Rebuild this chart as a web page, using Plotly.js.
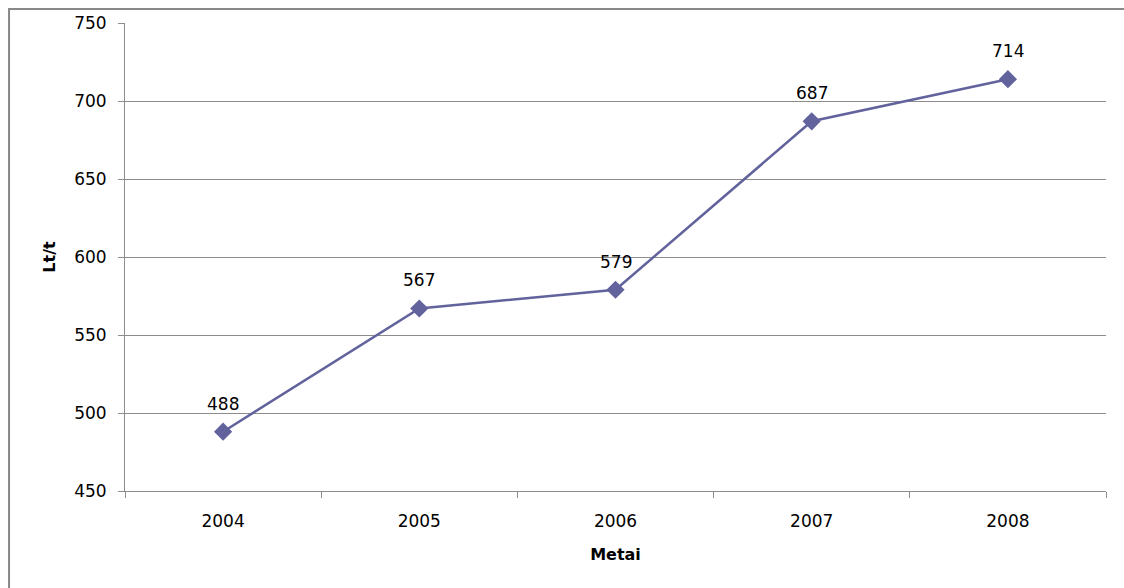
<!DOCTYPE html>
<html>
<head>
<meta charset="utf-8">
<script src="https://cdn.plot.ly/plotly-3.0.1.min.js"></script>
<style>
html,body{margin:0;padding:0;background:#fff;}
#chart{width:1124px;height:588px;}
</style>
</head>
<body>
<div id="chart"></div>
<script>
const years = ['2004', '2005', '2006', '2007', '2008'];
const values = [488, 567, 579, 687, 714];
const yTitle = 'Lt/t';
const xTitle = 'Metai';

const lineColor = '#62629D';
const greyLine = '#8C8C8C';
const fontFam = 'DejaVu Sans, Verdana, sans-serif';

const trace = {
  type: 'scatter',
  mode: 'lines+markers',
  x: years,
  y: values,
  line: {color: lineColor, width: 2.5},
  marker: {symbol: 'diamond', size: 14, color: lineColor},
  hoverinfo: 'skip'
};

const annotations = years.map((yr, i) => ({
  x: i, y: values[i], xref: 'x', yref: 'y',
  text: String(values[i]), showarrow: false,
  xanchor: 'center', yanchor: 'middle',
  yshift: 28, font: {family: fontFam, size: 17, color: '#000000'}
}));

const layout = {
  width: 1124, height: 588,
  margin: {l: 125, r: 18, t: 23, b: 97},
  paper_bgcolor: '#fff', plot_bgcolor: '#fff',
  showlegend: false,
  font: {family: fontFam, size: 17, color: '#000'},
  xaxis: {
    type: 'category',
    range: [-0.5, 4.5],
    tickson: 'boundaries',
    ticks: 'outside', ticklen: 6, tickcolor: greyLine, tickwidth: 1,
    ticklabelstandoff: 15,
    showgrid: false, zeroline: false,
    showline: true, linecolor: greyLine, linewidth: 1,
    tickfont: {family: fontFam, size: 17, color: '#000'},
    title: {text: xTitle, font: {family: fontFam, size: 16, color: '#000', weight: 'bold'}, standoff: 18}
  },
  yaxis: {
    range: [450, 750], dtick: 50, tick0: 450,
    ticks: 'outside', ticklen: 6, tickcolor: greyLine, tickwidth: 1,
    ticklabelstandoff: 8,
    showgrid: true, gridcolor: greyLine, gridwidth: 1,
    zeroline: false,
    showline: true, linecolor: greyLine, linewidth: 1,
    tickfont: {family: fontFam, size: 17, color: '#000'},
    title: {text: yTitle, font: {family: fontFam, size: 16, color: '#000', weight: 'bold'}, standoff: 14}
  },
  annotations: annotations,
  shapes: [{
    type: 'path', xref: 'paper', yref: 'paper',
    path: 'M -0.1182,-0.3 L -0.1182,1.0299 L 1.2,1.0299',
    line: {color: '#888888', width: 2}
  }]
};

Plotly.newPlot('chart', [trace], layout, {staticPlot: true, displayModeBar: false});
</script>
</body>
</html>
